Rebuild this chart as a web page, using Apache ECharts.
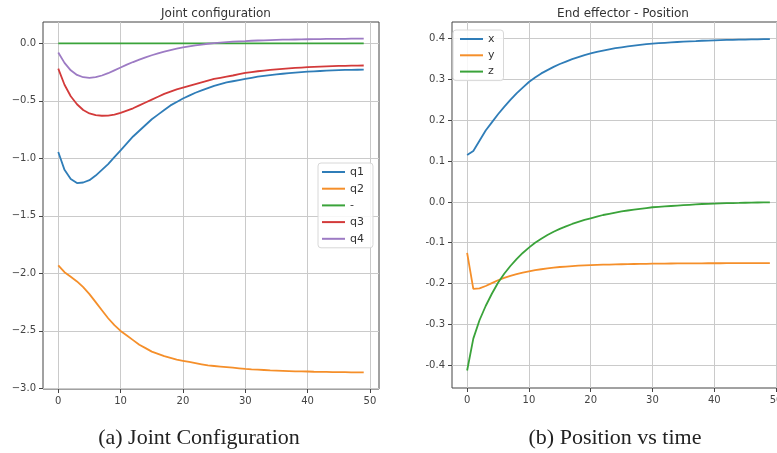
<!DOCTYPE html>
<html>
<head>
<meta charset="utf-8">
<script src="https://cdn.jsdelivr.net/npm/echarts@6/dist/echarts.min.js"></script>
<style>
  html, body { margin: 0; padding: 0; background: #fff; }
  #chart { width: 777px; height: 453px; }
</style>
</head>
<body>
<div id="chart"></div>
<script>
// time steps
var steps = [];
for (var i = 0; i < 50; i++) steps.push(i);

// joint configuration
var q1 = [-0.945, -1.10, -1.18, -1.215, -1.21, -1.19, -1.15, -1.10, -1.05, -0.99,
  -0.93, -0.87, -0.81, -0.76, -0.71, -0.66, -0.62, -0.58, -0.54, -0.51,
  -0.48, -0.455, -0.43, -0.41, -0.39, -0.37, -0.355, -0.34, -0.33, -0.32,
  -0.31, -0.30, -0.29, -0.283, -0.276, -0.27, -0.265, -0.26, -0.255, -0.251,
  -0.247, -0.244, -0.241, -0.238, -0.236, -0.234, -0.232, -0.231, -0.23, -0.229];
var q2 = [-1.93, -1.99, -2.03, -2.07, -2.12, -2.18, -2.25, -2.32, -2.39, -2.45,
  -2.50, -2.54, -2.58, -2.62, -2.65, -2.68, -2.70, -2.72, -2.735, -2.75,
  -2.76, -2.77, -2.78, -2.79, -2.80, -2.805, -2.81, -2.815, -2.82, -2.825,
  -2.83, -2.834, -2.837, -2.84, -2.843, -2.845, -2.847, -2.849, -2.851, -2.852,
  -2.853, -2.855, -2.856, -2.857, -2.858, -2.858, -2.859, -2.86, -2.86, -2.86];
var qDash = [0, 0, 0, 0, 0, 0, 0, 0, 0, 0, 0, 0, 0, 0, 0, 0, 0, 0, 0, 0, 0, 0, 0, 0, 0,
  0, 0, 0, 0, 0, 0, 0, 0, 0, 0, 0, 0, 0, 0, 0, 0, 0, 0, 0, 0, 0, 0, 0, 0, 0];
var q3 = [-0.22, -0.36, -0.46, -0.53, -0.58, -0.61, -0.625, -0.63, -0.628, -0.62,
  -0.605, -0.585, -0.565, -0.54, -0.515, -0.49, -0.465, -0.44, -0.42, -0.40,
  -0.385, -0.37, -0.355, -0.34, -0.325, -0.31, -0.30, -0.29, -0.28, -0.268,
  -0.258, -0.25, -0.243, -0.237, -0.231, -0.226, -0.222, -0.218, -0.214, -0.211,
  -0.208, -0.205, -0.203, -0.201, -0.199, -0.197, -0.196, -0.195, -0.194, -0.193];
var q4 = [-0.08, -0.17, -0.235, -0.275, -0.295, -0.30, -0.295, -0.28, -0.26, -0.235,
  -0.21, -0.185, -0.163, -0.142, -0.122, -0.104, -0.088, -0.073, -0.059, -0.047,
  -0.036, -0.026, -0.018, -0.011, -0.004, 0.001, 0.006, 0.01, 0.014, 0.017,
  0.019, 0.022, 0.024, 0.026, 0.028, 0.03, 0.031, 0.032, 0.033, 0.034,
  0.035, 0.036, 0.037, 0.038, 0.038, 0.039, 0.039, 0.04, 0.04, 0.04];

// end effector position
var px = [0.115, 0.125, 0.15, 0.175, 0.195, 0.215, 0.233, 0.25, 0.266, 0.28,
  0.294, 0.305, 0.315, 0.323, 0.331, 0.338, 0.344, 0.35, 0.355, 0.36,
  0.364, 0.368, 0.371, 0.374, 0.377, 0.379, 0.381, 0.383, 0.385, 0.387,
  0.388, 0.389, 0.39, 0.391, 0.392, 0.393, 0.3937, 0.3943, 0.395, 0.3955,
  0.396, 0.3965, 0.397, 0.3974, 0.3978, 0.398, 0.3983, 0.3986, 0.3988, 0.399];
var py = [-0.125, -0.213, -0.212, -0.206, -0.199, -0.192, -0.186, -0.181, -0.177, -0.173,
  -0.170, -0.167, -0.165, -0.163, -0.161, -0.1595, -0.1583, -0.1572, -0.1563, -0.1555,
  -0.1549, -0.1543, -0.1538, -0.1534, -0.153, -0.1527, -0.1524, -0.1521, -0.1518, -0.1516,
  -0.1514, -0.1512, -0.151, -0.1509, -0.1508, -0.1507, -0.1506, -0.1505, -0.1504, -0.1503,
  -0.1502, -0.1502, -0.1501, -0.1501, -0.15, -0.15, -0.15, -0.15, -0.15, -0.15];
var pz = [-0.413, -0.335, -0.29, -0.255, -0.225, -0.198, -0.176, -0.157, -0.14, -0.125,
  -0.112, -0.1, -0.09, -0.081, -0.073, -0.066, -0.06, -0.054, -0.049, -0.044,
  -0.04, -0.036, -0.032, -0.029, -0.026, -0.023, -0.021, -0.019, -0.017, -0.015,
  -0.013, -0.012, -0.011, -0.01, -0.009, -0.008, -0.007, -0.006, -0.005, -0.0045,
  -0.004, -0.0035, -0.003, -0.0027, -0.0024, -0.002, -0.0017, -0.0014, -0.0012, -0.001];

var xTicks = [0, 10, 20, 30, 40, 50];
var yTicksLeft = [-3.0, -2.5, -2.0, -1.5, -1.0, -0.5, 0.0];
var yTicksRight = [-0.4, -0.3, -0.2, -0.1, 0.0, 0.1, 0.2, 0.3, 0.4];

var colors = ['#2f7db8', '#f58f2a', '#3aa33a', '#d33a3a', '#9d7bc4'];

function pairs(ys) {
  return ys.map(function (v, i) { return [steps[i], v]; });
}

var tickFont = { fontFamily: 'DejaVu Sans', fontSize: 10, color: '#444' };

function xAxisFor(gi) {
  return {
    type: 'value', gridIndex: gi, min: -2.45, max: 51.45, position: 'bottom',
    axisLine: { show: false, onZero: false },
    axisTick: { show: true, length: 4, customValues: xTicks, lineStyle: { color: '#444' } },
    axisLabel: Object.assign({ customValues: xTicks, margin: 7 }, tickFont),
    splitLine: { show: true, lineStyle: { color: '#cacaca', width: 1 } }
  };
}

function yAxisFor(gi, min, max, ticks, minus) {
  return {
    type: 'value', gridIndex: gi, min: min, max: max, position: 'left',
    axisLine: { show: false, onZero: false },
    axisTick: { show: true, length: 4, customValues: ticks, lineStyle: { color: '#444' } },
    axisLabel: Object.assign({
      customValues: ticks, margin: 7,
      formatter: function (v) {
        var s = Math.abs(v).toFixed(1);
        return v < -1e-9 ? minus + s : s;
      }
    }, tickFont),
    splitLine: { show: true, lineStyle: { color: '#cacaca', width: 1 } }
  };
}

function line(name, data, gi, color) {
  return {
    name: name, type: 'line', xAxisIndex: gi, yAxisIndex: gi,
    data: pairs(data), showSymbol: false, smooth: false,
    lineStyle: { color: color, width: 1.8 }, itemStyle: { color: color },
    z: 3
  };
}

var legendText = { fontFamily: 'DejaVu Sans', fontSize: 11, color: '#333', lineHeight: 16 };

var chart = echarts.init(document.getElementById('chart'), null, { renderer: 'canvas' });
chart.setOption({
  animation: false,
  backgroundColor: '#fff',
  title: [
    { text: 'Joint configuration', left: 211, top: 3, textAlign: 'center',
      textStyle: { fontFamily: 'DejaVu Sans', fontSize: 12, fontWeight: 'normal', color: '#333' } },
    { text: 'End effector - Position', left: 618, top: 3, textAlign: 'center',
      textStyle: { fontFamily: 'DejaVu Sans', fontSize: 12, fontWeight: 'normal', color: '#333' } },
    { text: '(a) Joint Configuration', left: 194, top: 422, textAlign: 'center',
      textStyle: { fontFamily: 'Liberation Serif', fontSize: 22, fontWeight: 'normal', color: '#222' } },
    { text: '(b) Position vs time', left: 610, top: 422, textAlign: 'center',
      textStyle: { fontFamily: 'Liberation Serif', fontSize: 22, fontWeight: 'normal', color: '#222' } }
  ],
  grid: [
    { left: 43, top: 22, width: 336, height: 367, outerBoundsMode: 'none', containLabel: false,
      show: true, borderColor: '#444', borderWidth: 1, backgroundColor: 'transparent' },
    { left: 452, top: 22, width: 333, height: 366, outerBoundsMode: 'none', containLabel: false,
      show: true, borderColor: '#444', borderWidth: 1, backgroundColor: 'transparent' }
  ],
  legend: [
    { data: ['q1', 'q2', '-', 'q3', 'q4'], orient: 'vertical', left: 318, top: 163,
      icon: 'rect', itemWidth: 23, itemHeight: 2, itemGap: 0.7,
      padding: [1, 9, 1, 4], backgroundColor: 'rgba(255,255,255,0.85)',
      borderColor: '#d8d8d8', borderWidth: 1, borderRadius: 3, textStyle: legendText },
    { data: ['x', 'y', 'z'], orient: 'vertical', left: 453, top: 30,
      icon: 'rect', itemWidth: 23, itemHeight: 2, itemGap: 0.3,
      padding: [1, 9, 1, 7], backgroundColor: 'rgba(255,255,255,0.85)',
      borderColor: '#d8d8d8', borderWidth: 1, borderRadius: 3, textStyle: legendText }
  ],
  xAxis: [xAxisFor(0), xAxisFor(1)],
  yAxis: [
    yAxisFor(0, -3.005, 0.185, yTicksLeft, '\u2212'),
    yAxisFor(1, -0.456, 0.441, yTicksRight, '-')
  ],
  series: [
    line('q1', q1, 0, colors[0]),
    line('q2', q2, 0, colors[1]),
    line('-', qDash, 0, colors[2]),
    line('q3', q3, 0, colors[3]),
    line('q4', q4, 0, colors[4]),
    line('x', px, 1, colors[0]),
    line('y', py, 1, colors[1]),
    line('z', pz, 1, colors[2])
  ]
});
</script>
</body>
</html>
